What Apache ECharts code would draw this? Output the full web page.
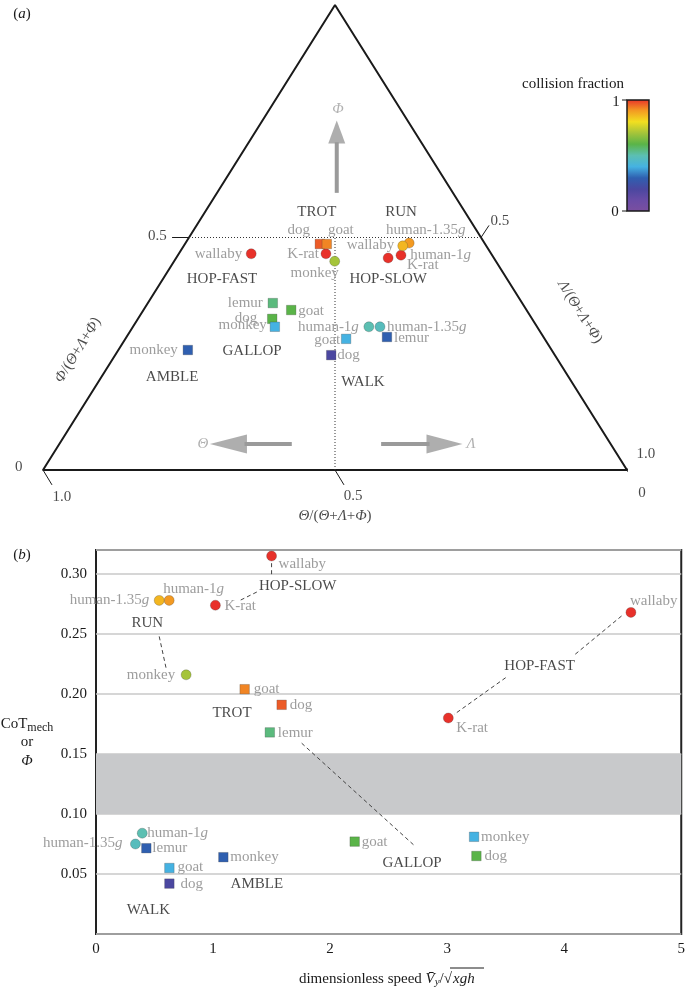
<!DOCTYPE html>
<html><head><meta charset="utf-8">
<script src="https://cdn.jsdelivr.net/npm/echarts@6/dist/echarts.min.js"></script>
<style>html,body{margin:0;padding:0;background:#fff}#c{width:688px;height:992px}</style>
</head><body><div id="c"></div>
<script>
// ---------- data ----------
const names = ['wallaby','K-rat','wallaby','K-rat','human-1g','human-1.35g','monkey','dog','goat','lemur','goat','dog','monkey','human-1g','human-1.35g','lemur','goat','dog','monkey'];
const gaits = ['HOP-FAST','HOP-FAST','HOP-SLOW','HOP-SLOW','RUN','RUN','RUN','TROT','TROT','GALLOP','GALLOP','GALLOP','GALLOP','WALK','WALK','WALK','WALK','WALK','AMBLE'];
const limbs = [2,2,2,2,2,2,2,4,4,4,4,4,4,2,2,4,4,4,4];
// ternary fractions (panel a)
const thetaFrac = [0.411,0.283,0.181,0.156,0.129,0.143,0.276,0.283,0.271,0.427,0.403,0.445,0.449,0.288,0.269,0.268,0.340,0.383,0.623];
const phiFrac   = [0.465,0.465,0.456,0.462,0.488,0.482,0.449,0.486,0.486,0.359,0.344,0.325,0.308,0.308,0.308,0.286,0.282,0.247,0.258];
// collision fraction (colour)
const collision = [1.0,1.0,1.0,1.0,0.9,0.86,0.7,0.96,0.92,0.55,0.6,0.6,0.4,0.5,0.48,0.3,0.4,0.2,0.3];
// panel b
const speed = [4.57,3.01,1.50,1.02,0.625,0.54,0.77,1.586,1.27,1.485,2.21,3.25,3.23,0.395,0.337,0.43,0.627,0.627,1.088];
const cot   = [0.268,0.180,0.315,0.274,0.278,0.278,0.216,0.191,0.204,0.168,0.077,0.065,0.081,0.084,0.075,0.0715,0.055,0.042,0.064];
const xTicks = [0,1,2,3,4,5];
const yTicks = [0.05,0.10,0.15,0.20,0.25,0.30];
const bandRange = [0.10,0.15];
const gaitNames = ['HOP-FAST','HOP-SLOW','RUN','TROT','GALLOP','WALK','AMBLE'];

// ---------- placement / style ----------
const topGaitPos = [[0.3065,0.411],[0.591,0.411],[0.613,0.555],[0.469,0.555],[0.358,0.256],[0.548,0.189],[0.221,0.200]];
const botGaitPos = [[3.79,0.223],[1.723,0.290],[0.438,0.259],[1.162,0.184],[2.70,0.059],[0.447,0.020],[1.374,0.0416]];
const topLabel = [[-9,0,'right'],[-7,0,'right'],[6,-13,'right'],[6,10,'left'],[1,12,'left'],[23,-16,'center'],[-20,12,'center'],[-21,-14,'center'],[14,-14,'center'],[-10,0,'right'],[7,1,'left'],[-15,-1,'right'],[-8,-2,'right'],[-10,0,'right'],[7,0,'left'],[7,1,'left'],[-6,1,'right'],[6,0,'left'],[-10,0,'right']];
const botLabel = [[-1,-11,'left'],[8,10,'left'],[7,8,'left'],[9,1,'left'],[-6,-11,'left'],[-10,0,'right'],[-11,0,'right'],[8,0,'left'],[9,0,'left'],[8,1,'left'],[7,0,'left'],[8,0,'left'],[7,0,'left'],[5,0,'left'],[-13,-1,'right'],[6,0,'left'],[8,-1,'left'],[11,0,'left'],[7,0,'left']];
const connectors = [
  [[1.50,0.309],[1.50,0.299]],
  [[1.374,0.285],[1.23,0.278]],
  [[0.54,0.248],[0.60,0.221]],
  [[4.49,0.265],[4.08,0.232]],
  [[3.50,0.2136],[3.06,0.183]],
  [[1.757,0.159],[2.728,0.073]]
];
const PALETTE = ['#7b4fa0','#6a4ca6','#4b47a0','#2f5fb0','#45b2e2','#5cbfb2','#5ab448','#a5c43a','#f2df20','#f39a22','#e8312a'];
const FONT = 'Liberation Serif';
const GRAY = '#9d9d9d';
const DARK = '#1a1a1a';

const chart = echarts.init(document.getElementById('c'), null, {renderer:'canvas'});

function fmtName(n){ return n.indexOf('human')===0 ? n.replace(/g$/,'{it|g}') : n; }

const series = [];
const pointIdx = [];
function pointSeries(grid, biped){
  const data = [];
  for (let i=0;i<names.length;i++){
    if ((limbs[i]===2)!==biped) continue;
    let x, y;
    if (grid===0){ const lam = 1-thetaFrac[i]-phiFrac[i]; x = lam + phiFrac[i]/2; y = phiFrac[i]; }
    else { x = speed[i]; y = cot[i]; }
    const lp = (grid===0?topLabel:botLabel)[i];
    data.push({value:[x,y,collision[i]], name:names[i], label:{offset:[lp[0],lp[1]], align:lp[2]}});
  }
  pointIdx.push(series.length);
  series.push({type:'scatter', xAxisIndex:grid, yAxisIndex:grid, symbol: biped?'circle':'rect', symbolSize: biped?10:9.5,
    data, clip:false, z:5, animation:false,
    itemStyle:{borderColor:'rgba(60,60,60,0.45)', borderWidth:0.6, opacity:1},
    label:{show:true, position:'inside', verticalAlign:'middle', formatter:p=>fmtName(p.name), fontFamily:FONT, fontSize:15, color:GRAY,
      rich:{it:{fontStyle:'italic', fontFamily:FONT, fontSize:15, color:GRAY}}},
    emphasis:{disabled:true}});
}
function seg(grid, pts, style, z){
  series.push({type:'line', xAxisIndex:grid, yAxisIndex:grid, data:pts, symbol:'none', clip:false, silent:true, animation:false, z:z||2, lineStyle:style});
}
function texts(grid, items, color, italic){
  series.push({type:'scatter', xAxisIndex:grid, yAxisIndex:grid, symbolSize:1, silent:true, clip:false, animation:false, z:6,
    itemStyle:{color:'rgba(0,0,0,0)'},
    data: items.map(t=>({value:[t[1],t[2]], name:t[0], label:{align:t[3]||'center', rotate:t[4]||0}})),
    label:{show:true, position:'inside', verticalAlign:'middle', formatter:'{b}', fontFamily:FONT, fontSize:15, color:color,
      fontStyle: italic?'italic':'normal',
      rich:{i:{fontStyle:'italic', fontFamily:FONT, fontSize:15, color:color}}}});
}

// ---- panel a : ternary frame ----
seg(0, [[0,0],[1,0],[0.5,1],[0,0]], {color:DARK, width:2});
seg(0, [[0.25,0.5],[0.75,0.5]], {color:'#333', width:1, type:[1,2]});
seg(0, [[0.5,0],[0.5,0.5]], {color:'#333', width:1, type:[1,2]});
const tickSegs = [
  [[-0.031,0],[0,0]], [[0.221,0.5],[0.25,0.5]],
  [[0,0],[0.0154,-0.032]], [[0.5,0],[0.5154,-0.032]], [[1,0],[1.0154,-0.032]],
  [[1,0],[1.0154,0.026]], [[0.75,0.5],[0.7637,0.526]]
];
tickSegs.forEach(s=>seg(0, s, {color:DARK, width:1}));
// arrows
const ARROW = '#9a9a9a';
seg(0, [[0.503,0.596],[0.503,0.705]], {color:ARROW, width:4});
seg(0, [[0.426,0.056],[0.345,0.056]], {color:ARROW, width:4});
seg(0, [[0.579,0.056],[0.662,0.056]], {color:ARROW, width:4});
series.push({type:'scatter', xAxisIndex:0, yAxisIndex:0, symbol:'triangle', silent:true, clip:false, animation:false, z:3,
  itemStyle:{color:ARROW},
  data:[{value:[0.503,0.727], symbolSize:[17,23], symbolRotate:0},
        {value:[0.3175,0.056], symbolSize:[19,37], symbolRotate:90},
        {value:[0.6875,0.056], symbolSize:[19,36], symbolRotate:-90}]});
const tern = '({i|Θ}+{i|Λ}+{i|Φ})';
texts(0, [
  ['0',-0.035,0.006,'right'], ['0.5',0.212,0.503,'right'],
  ['1.0',0.0325,-0.058], ['0.5',0.531,-0.056], ['0',1.0257,-0.0495],
  ['1.0',1.0325,0.0344], ['0.5',0.7825,0.5355],
  ['{i|Θ}/'+tern, 0.5, -0.099],
  ['{i|Φ}/'+tern, 0.06, 0.258, 'center', 58],
  ['{i|Λ}/'+tern, 0.9195, 0.34, 'center', -58]
], DARK, false);
texts(0, [['Φ',0.505,0.776],['Θ',0.274,0.056],['Λ',0.733,0.056]], GRAY, true);
texts(0, gaitNames.map((g,k)=>[g, topGaitPos[k][0], topGaitPos[k][1]]), DARK, false);

// ---- panel b ----
series.push({type:'line', xAxisIndex:1, yAxisIndex:1, data:[], silent:true, z:1,
  markArea:{silent:true, itemStyle:{color:'#c8c9cb'}, data:[[{yAxis:bandRange[0]},{yAxis:bandRange[1]}]]}});
connectors.forEach(c=>seg(1, c, {color:'#444', width:1, type:[4,3]}, 3));
texts(1, gaitNames.map((g,k)=>[g, botGaitPos[k][0], botGaitPos[k][1]]), DARK, false);

pointSeries(0, true); pointSeries(0, false);
pointSeries(1, true); pointSeries(1, false);

// colour bar graphic
const cbStops = PALETTE.map((c,k)=>({offset:1-k/(PALETTE.length-1), color:c}));
const graphic = [
  {type:'text', x:22, y:14, style:{text:'({i|a})', fontFamily:FONT, fontSize:15, fill:DARK, align:'center', verticalAlign:'middle', rich:{i:{fontStyle:'italic',fontFamily:FONT,fontSize:15,fill:DARK}}}},
  {type:'text', x:22, y:555, style:{text:'({i|b})', fontFamily:FONT, fontSize:15, fill:DARK, align:'center', verticalAlign:'middle', rich:{i:{fontStyle:'italic',fontFamily:FONT,fontSize:15,fill:DARK}}}},
  {type:'text', x:573, y:84, style:{text:'collision fraction', fontFamily:FONT, fontSize:15, fill:DARK, align:'center', verticalAlign:'middle'}},
  {type:'rect', shape:{x:627, y:100, width:22, height:111}, style:{fill:{type:'linear',x:0,y:0,x2:0,y2:1,colorStops:cbStops.slice().reverse()}, stroke:DARK, lineWidth:1.5}},
  {type:'line', shape:{x1:622,y1:100,x2:627,y2:100}, style:{stroke:DARK, lineWidth:1}},
  {type:'line', shape:{x1:622,y1:211,x2:627,y2:211}, style:{stroke:DARK, lineWidth:1}},
  {type:'text', x:616, y:102, style:{text:'1', fontFamily:FONT, fontSize:15, fill:DARK, align:'center', verticalAlign:'middle'}},
  {type:'text', x:615, y:212, style:{text:'0', fontFamily:FONT, fontSize:15, fill:DARK, align:'center', verticalAlign:'middle'}},
  {type:'text', x:27, y:724, style:{text:'CoT{s|mech}', fontFamily:FONT, fontSize:15, fill:DARK, align:'center', verticalAlign:'middle', rich:{s:{fontFamily:FONT,fontSize:12,fill:DARK,padding:[8,0,0,0]}}}},
  {type:'text', x:27, y:742, style:{text:'or', fontFamily:FONT, fontSize:15, fill:DARK, align:'center', verticalAlign:'middle'}},
  {type:'text', x:27, y:761, style:{text:'Φ', fontFamily:FONT, fontSize:15, fontStyle:'italic', fill:DARK, align:'center', verticalAlign:'middle'}},
  {type:'text', x:452, y:979, style:{text:'dimensionless speed {i|V\u0304}{s|y}/√', fontFamily:FONT, fontSize:15, fill:DARK, align:'right', verticalAlign:'middle',
     rich:{i:{fontStyle:'italic',fontFamily:FONT,fontSize:15,fill:DARK}, s:{fontStyle:'italic',fontFamily:FONT,fontSize:11,fill:DARK,padding:[7,0,0,0]}}}},
  {type:'text', x:453, y:979, style:{text:'xgh', fontFamily:FONT, fontSize:15, fontStyle:'italic', fill:DARK, align:'left', verticalAlign:'middle'}},
  {type:'line', shape:{x1:450,y1:968,x2:484,y2:968}, style:{stroke:DARK, lineWidth:1}}
];

chart.setOption({
  animation:false,
  backgroundColor:'#fff',
  grid:[
    {left:43, top:5, width:584, height:465, show:false},
    {left:96, top:550, width:588, height:384, show:true, borderColor:'#222', borderWidth:2, backgroundColor:'rgba(0,0,0,0)'}
  ],
  xAxis:[
    {type:'value', gridIndex:0, min:0, max:1, show:false},
    {type:'value', gridIndex:1, min:xTicks[0], max:xTicks[xTicks.length-1], interval:1,
      axisLine:{show:false}, axisTick:{show:false}, splitLine:{show:false},
      axisLabel:{fontFamily:FONT, fontSize:15, color:DARK, margin:8}}
  ],
  yAxis:[
    {type:'value', gridIndex:0, min:0, max:1, show:false},
    {type:'value', gridIndex:1, min:0, max:0.32, interval:0.05,
      axisLine:{show:false}, axisTick:{show:false},
      splitLine:{show:true, lineStyle:{color:'#c8c8c8', width:1.5}},
      axisLabel:{fontFamily:FONT, fontSize:15, color:DARK, margin:9, showMaxLabel:false,
        formatter:v=> (yTicks.some(t=>Math.abs(t-v)<1e-6) ? v.toFixed(2) : '')}}
  ],
  visualMap:{type:'continuous', show:false, min:0, max:1, dimension:2, seriesIndex:pointIdx, inRange:{color:PALETTE}},
  series,
  graphic
});
</script></body></html>
